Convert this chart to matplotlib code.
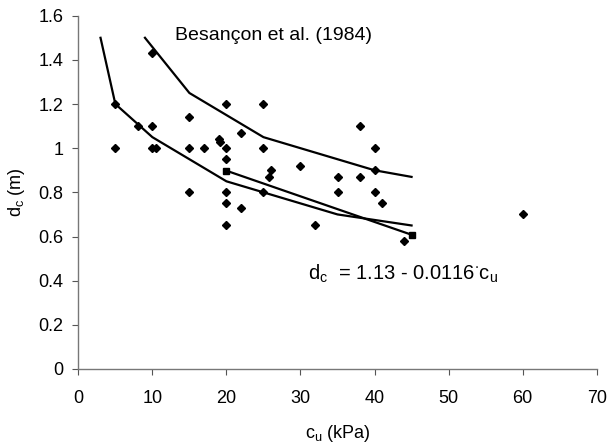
import matplotlib.pyplot as plt

plt.rcParams['font.family'] = ['Liberation Sans', 'DejaVu Sans']
plt.rcParams['mathtext.fontset'] = 'custom'
plt.rcParams['mathtext.rm'] = 'Liberation Sans'

# -------------------- data --------------------
cu_pts = [10, 5, 20, 25, 15, 8, 10, 22, 19, 19.1,
          5, 10, 10.5, 15, 17, 20, 25, 20,
          15, 20, 25, 26, 25.7, 20, 22, 20,
          40, 30, 35, 38, 40, 35, 40, 41, 32, 44, 38, 60]
dc_pts = [1.43, 1.2, 1.2, 1.2, 1.14, 1.1, 1.1, 1.07, 1.04, 1.03,
          1.0, 1.0, 1.0, 1.0, 1.0, 1.0, 1.0, 0.95,
          0.8, 0.8, 0.8, 0.9, 0.87, 0.75, 0.73, 0.65,
          1.0, 0.92, 0.87, 0.87, 0.9, 0.8, 0.8, 0.75, 0.65, 0.58, 1.1, 0.7]

upper_cu = [9, 15, 25, 40, 45]
upper_dc = [1.5, 1.25, 1.05, 0.9, 0.87]

lower_cu = [3, 5, 10, 20, 25, 35, 45]
lower_dc = [1.5, 1.2, 1.05, 0.85, 0.8, 0.7, 0.65]

fit_cu = [20, 45]
fit_dc = [1.13 - 0.0116 * c for c in fit_cu]

# -------------------- plot --------------------
fig = plt.figure(figsize=(6.08, 4.45), dpi=100)
ax = fig.add_axes([0.1288, 0.1708, 0.8526, 0.7939])

ax.plot(upper_cu, upper_dc, color='black', lw=1.6)
ax.plot(lower_cu, lower_dc, color='black', lw=1.6)
ax.plot(fit_cu, fit_dc, color='black', lw=1.6, marker='s', ms=4)
ax.plot(cu_pts, dc_pts, 'D', color='black', ms=4, ls='none')

ax.set_xlim(0, 70)
ax.set_ylim(0, 1.6)
ax.set_xticks(range(0, 71, 10))
ax.set_yticks([0, 0.2, 0.4, 0.6, 0.8, 1, 1.2, 1.4, 1.6])
ax.set_yticklabels(['0', '0.2', '0.4', '0.6', '0.8', '1', '1.2', '1.4', '1.6'])

for s in ['top', 'right']:
    ax.spines[s].set_visible(False)
for s in ['left', 'bottom']:
    ax.spines[s].set_color('#777777')
    ax.spines[s].set_linewidth(1.0)
ax.tick_params(direction='out', length=4.5, color='#555555', labelsize=13)
ax.tick_params(axis='x', pad=10.5)
ax.tick_params(axis='y', pad=6)

ax.set_xlabel(r'c$_\mathregular{u}$ (kPa)', fontsize=13, va='center')
ax.set_ylabel(r'd$_\mathregular{c}$ (m)', fontsize=13, va='center')
ax.xaxis.set_label_coords(0.5, -0.184)
ax.yaxis.set_label_coords(-0.1186, 0.5)

ax.text(13.0, 1.49, 'Besançon et al. (1984)', fontsize=14, va='baseline')
ax.text(31.0, 0.403, r'd$_\mathregular{c}$  = 1.13 - 0.0116$^\mathregular{\cdot}$c$_\mathregular{u}$',
        fontsize=14.5, va='baseline')

fig.savefig('out.png', dpi=100)
